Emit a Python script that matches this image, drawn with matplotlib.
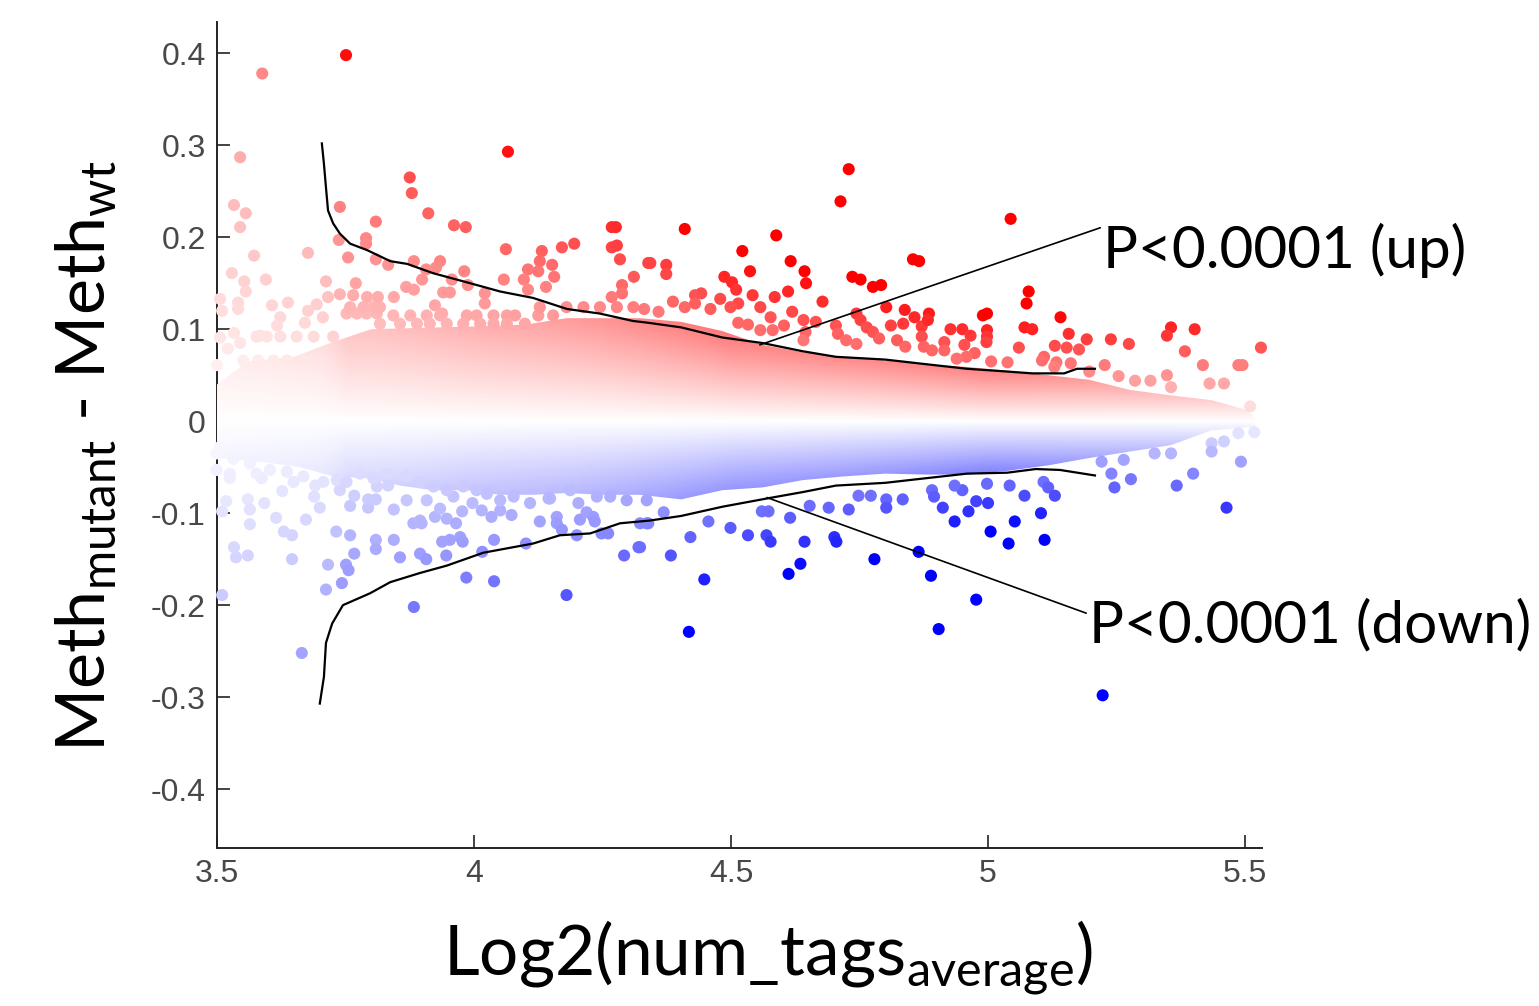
import numpy as np
import matplotlib
matplotlib.use('Agg')
import matplotlib.pyplot as plt
from matplotlib.patches import Polygon

plt.rcParams['mathtext.fontset'] = 'custom'
plt.rcParams['mathtext.rm'] = 'Lato'

# points above zero
up_x = [3.751,3.588,3.545,3.875,3.879,4.066,3.911,3.961,3.984,3.739,3.809,3.533,3.556,3.545,3.572,3.677,3.529,3.553,3.556,3.595,
        3.712,3.770,3.737,3.790,3.790,3.755,3.809,3.833,3.883,3.934,3.926,3.907,3.899,3.868,3.883,3.981,3.957,3.988,4.058,4.062,
        4.132,4.128,4.105,4.125,4.097,4.152,4.156,4.140,4.105,4.171,4.195,4.268,4.276,4.268,4.278,4.284,4.311,4.288,4.288,4.339,
        4.268,3.506,3.541,3.510,3.541,3.638,3.607,3.677,3.694,3.716,3.739,3.765,3.792,3.813,3.844,3.940,3.953,4.021,4.021,3.924,
        3.938,3.623,3.617,3.671,3.706,3.533,3.506,3.545,3.584,3.521,3.500,
        4.729,4.713,5.044,4.410,4.588,4.343,4.374,4.374,4.522,4.616,4.643,4.646,4.537,4.487,4.502,4.510,4.854,4.866,4.736,4.752,
        4.776,4.792,5.079,5.075,4.542,4.585,4.611,4.678,4.802,4.838,4.557,4.514,4.499,4.479,4.442,4.430,4.387,4.410,4.460,4.430,
        4.359,4.331,4.619,4.577,4.514,4.533,4.603,4.557,4.581,4.641,4.665,4.744,4.752,4.764,4.776,4.788,4.704,4.708,4.724,4.744,
        4.645,4.641,4.811,4.835,4.857,4.871,4.885,4.883,4.823,4.839,4.871,4.875,4.891,4.915,4.915,4.927,4.950,4.966,4.954,4.990,
        4.998,4.998,4.998,4.997,5.071,5.086,5.141,5.157,5.192,5.060,5.130,5.153,5.177,5.239,5.274,5.356,5.348,5.402,5.383,5.531,
        5.487,5.495,5.418,5.227,5.109,5.105,5.133,5.161,5.129,5.038,4.974,4.958,4.939,5.006,5.197,5.254,5.286,5.348,5.316,5.356,
        5.431,5.459,5.510,
        3.752,3.772,3.791,3.811,3.759,3.785,3.804,3.817,3.843,3.876,3.908,3.934,3.986,4.005,4.038,4.064,4.080,4.125,4.154,
        3.817,3.856,3.889,3.914,3.947,3.979,4.012,4.038,4.064,4.099,4.128,4.180,4.213,4.245,4.278,4.310,
        3.577,3.597,3.623,3.655,3.688,3.726,3.551,3.580,3.610,3.636,3.668,3.700]
up_y = [.398,.378,.287,.265,.248,.293,.226,.213,.211,.233,.217,.235,.226,.211,.180,.183,.161,.152,.141,.154,
        .152,.150,.197,.199,.193,.178,.176,.170,.174,.174,.167,.165,.154,.146,.143,.163,.154,.148,.154,.187,
        .185,.174,.165,.163,.154,.170,.157,.146,.143,.189,.193,.211,.211,.189,.191,.176,.157,.148,.139,.172,
        .135,.133,.129,.120,.122,.129,.126,.120,.127,.135,.138,.137,.135,.135,.135,.140,.140,.139,.128,.126,
        .117,.113,.104,.107,.113,.096,.091,.085,.093,.079,.061,
        .274,.239,.220,.209,.202,.172,.170,.160,.185,.174,.163,.150,.163,.157,.151,.143,.176,.174,.157,.154,
        .146,.148,.141,.128,.137,.135,.141,.130,.124,.121,.124,.128,.124,.133,.139,.137,.130,.124,.122,.128,
        .119,.122,.119,.113,.107,.105,.104,.099,.099,.110,.108,.117,.110,.102,.097,.090,.104,.095,.088,.084,
        .097,.088,.104,.106,.113,.103,.117,.110,.088,.081,.092,.081,.077,.086,.077,.100,.100,.093,.083,.115,
        .117,.099,.092,.086,.102,.100,.113,.095,.089,.080,.082,.080,.078,.089,.084,.102,.093,.100,.076,.080,
        .061,.061,.061,.061,.070,.066,.064,.063,.059,.064,.074,.070,.068,.065,.054,.049,.044,.050,.044,.037,
        .041,.041,.016,
        .117,.117,.117,.117,.124,.124,.124,.124,.115,.115,.115,.115,.115,.115,.115,.115,.115,.115,.115,
        .106,.106,.106,.106,.106,.106,.106,.106,.106,.106,.124,.124,.124,.124,.124,.124,
        .092,.092,.092,.092,.092,.092,.066,.066,.066,.066,.066,.066]

# points below zero
down_x = [4.180,3.883,3.665,3.985,4.039,4.292,4.320,3.510,3.712,3.743,3.716,3.751,3.756,3.646,3.537,3.560,3.533,3.646,3.630,3.732,
          3.759,3.767,3.809,3.809,3.844,3.856,3.895,3.907,3.946,3.938,3.953,3.973,3.978,4.016,4.039,4.101,4.200,4.248,4.261,4.323,
          4.336,4.128,4.161,4.161,4.171,4.206,4.219,4.232,4.235,3.564,3.615,3.673,3.510,3.518,3.560,3.564,3.592,3.700,3.689,3.627,
          3.759,3.767,3.794,3.794,3.809,3.844,3.882,3.895,3.898,3.924,3.947,3.965,3.934,3.977,3.997,4.015,3.525,3.525,4.034,4.073,
          4.109,4.203,4.145,4.239,3.587,3.649,3.691,3.739,3.811,3.833,3.869,3.908,3.960,4.051,
          4.418,4.904,4.977,5.223,5.464,4.448,4.612,4.635,4.779,4.865,4.889,4.383,4.421,4.499,4.533,4.569,4.577,4.643,4.701,4.705,
          4.615,4.690,4.729,4.560,4.573,4.653,4.748,4.772,4.802,4.802,4.834,4.912,4.935,4.962,4.977,5.000,5.005,5.052,5.040,5.103,
          5.110,5.071,5.108,5.117,5.130,5.246,5.278,5.367,5.399,5.492,5.240,4.891,4.895,4.950,4.935,4.998,5.042,4.456,4.369,4.339,
          4.323,5.221,5.264,5.324,5.356,5.435,5.435,5.459,5.518,5.487,
          3.577,3.603,3.636,3.668,3.707,3.733,3.752,3.778,3.804,3.830,3.869,3.895,3.921,3.947,3.979,4.005,4.025,4.051,4.077,4.148,
          4.187,4.265,4.297,4.336,3.506,3.532,3.564,3.499,3.499]
down_y = [-.189,-.202,-.252,-.170,-.174,-.146,-.137,-.189,-.183,-.176,-.156,-.156,-.162,-.150,-.148,-.146,-.137,-.124,-.120,-.120,
          -.124,-.144,-.129,-.139,-.129,-.148,-.144,-.150,-.146,-.131,-.129,-.126,-.131,-.142,-.129,-.133,-.124,-.122,-.122,-.111,
          -.111,-.109,-.104,-.111,-.118,-.107,-.099,-.104,-.109,-.112,-.105,-.107,-.098,-.087,-.085,-.096,-.089,-.094,-.082,-.076,
          -.092,-.081,-.094,-.085,-.085,-.096,-.111,-.108,-.111,-.104,-.106,-.111,-.095,-.098,-.089,-.097,-.057,-.062,-.104,-.102,
          -.089,-.089,-.084,-.082,-.062,-.066,-.070,-.075,-.071,-.070,-.086,-.086,-.082,-.097,
          -.229,-.226,-.194,-.298,-.094,-.172,-.166,-.155,-.150,-.142,-.168,-.146,-.126,-.116,-.124,-.124,-.131,-.131,-.126,-.131,
          -.105,-.094,-.096,-.098,-.098,-.092,-.081,-.081,-.085,-.094,-.085,-.094,-.109,-.098,-.087,-.089,-.120,-.109,-.133,-.100,
          -.129,-.081,-.066,-.072,-.081,-.072,-.063,-.070,-.057,-.044,-.057,-.075,-.082,-.075,-.070,-.068,-.070,-.109,-.099,-.111,
          -.137,-.044,-.042,-.035,-.035,-.024,-.033,-.022,-.012,-.013,
          -.057,-.053,-.055,-.060,-.066,-.064,-.066,-.057,-.062,-.057,-.060,-.066,-.071,-.075,-.071,-.075,-.079,-.086,-.082,-.084,
          -.075,-.082,-.086,-.086,-.028,-.041,-.046,-.035,-.053]

# edge of the solid cloud
cloud_top_x = [3.5,3.56,3.65,3.72,3.8,4.0,4.1,4.18,4.25,4.323,4.403,4.483,4.561,4.64,4.72,4.8,4.879,4.959,5.037,5.117,5.197,5.276,5.356,5.434,5.498,5.52]
cloud_top_y = [.04,.065,.07,.085,.10,.103,.105,.112,.112,.112,.108,.098,.083,.075,.07,.066,.062,.059,.055,.05,.045,.034,.028,.023,.013,.004]
cloud_bot_x = [3.5,3.597,3.661,3.726,3.792,3.856,3.92,3.986,4.05,4.115,4.181,4.245,4.323,4.403,4.483,4.561,4.64,4.72,4.8,4.879,4.959,5.037,5.117,5.197,5.276,5.356,5.434,5.52]
cloud_bot_y = [-.04,-.045,-.05,-.06,-.062,-.07,-.075,-.075,-.08,-.08,-.078,-.08,-.08,-.085,-.075,-.072,-.064,-.06,-.057,-.058,-.058,-.054,-.048,-.04,-.033,-.026,-.01,-.006]

# threshold curves
thr_up_x = [3.704,3.708,3.712,3.716,3.726,3.739,3.759,3.792,3.837,3.870,3.920,3.986,4.051,4.115,4.181,4.245,4.309,4.339,4.403,4.483,4.561,4.640,4.704,4.800,4.879,4.959,5.037,5.086,5.148,5.173,5.208]
thr_up_y = [.302,.280,.254,.229,.215,.204,.193,.186,.174,.171,.161,.151,.141,.134,.122,.117,.109,.107,.102,.091,.085,.076,.070,.067,.062,.057,.054,.052,.052,.057,.057]
thr_dn_x = [3.700,3.708,3.712,3.724,3.745,3.798,3.837,3.895,3.947,4.018,4.115,4.167,4.226,4.284,4.342,4.403,4.483,4.570,4.640,4.704,4.800,4.879,4.959,5.037,5.093,5.140,5.208]
thr_dn_y = [-.307,-.278,-.241,-.220,-.200,-.187,-.175,-.165,-.157,-.143,-.133,-.124,-.122,-.111,-.108,-.103,-.093,-.084,-.077,-.070,-.067,-.062,-.057,-.056,-.052,-.053,-.059]

# |difference| that shows as pure red/blue, by x
full_x = [3.5,3.6,3.7,3.75,3.8,4.0,4.2,4.5,5.0,5.5]
full_y = [.95,.80,.65,.42,.42,.33,.28,.18,.115,.12]


def strength(x, y):
    return np.clip(np.abs(y) / np.interp(x, full_x, full_y), 0, 1)


def colours(x, y):
    x = np.array(x)
    y = np.array(y)
    t = strength(x, y)
    rgb = np.ones((len(x), 3))
    rgb[:, 1] = 1 - t
    rgb[:, 0 if y.mean() < 0 else 2] = 1 - t
    return rgb


fig = plt.figure(figsize=(15.39, 10.06), dpi=100)
ax = fig.add_axes([217/1539, 1-848/1006, (1262-217)/1539, (848-22)/1006])

# solid cloud with its colour ramp
gx = np.linspace(3.5, 5.533, 300)
gy = np.linspace(-.12, .14, 300)
mx, my = np.meshgrid(gx, gy)
t = strength(mx, my)
img = np.ones(mx.shape + (3,))
img[..., 1] = 1 - t
img[..., 0] = np.where(my < 0, 1 - t, 1)
img[..., 2] = np.where(my > 0, 1 - t, 1)
mesh = ax.imshow(img, extent=[3.5, 5.533, -.12, .14], origin='lower', aspect='auto', zorder=3, interpolation='bilinear')
poly = Polygon(list(zip(cloud_top_x, cloud_top_y)) + list(zip(cloud_bot_x[::-1], cloud_bot_y[::-1])), closed=True, transform=ax.transData, fc='none', ec='none')
ax.add_patch(poly)
mesh.set_clip_path(poly)

ax.scatter(up_x, up_y, c=colours(up_x, up_y), s=76, linewidths=0, zorder=3, clip_on=False)
ax.scatter(down_x, down_y, c=colours(down_x, down_y), s=76, linewidths=0, zorder=3, clip_on=False)
ax.plot(thr_up_x, thr_up_y, color='k', lw=1.6, zorder=4)
ax.plot(thr_dn_x, thr_dn_y, color='k', lw=1.6, zorder=4)

ax.set_xlim(3.5, 5.533)
ax.set_ylim(-.464, .434)
ax.set_xticks([3.5, 4, 4.5, 5, 5.5])
ax.set_xticklabels(['3.5', '4', '4.5', '5', '5.5'])
ax.set_yticks([-.4, -.3, -.2, -.1, 0, .1, .2, .3, .4])
ax.set_yticklabels(['-0.4', '-0.3', '-0.2', '-0.1', '0', '0.1', '0.2', '0.3', '0.4'])
ax.spines['top'].set_visible(False)
ax.spines['right'].set_visible(False)
for s in ['left', 'bottom']:
    ax.spines[s].set_linewidth(1.4)
    ax.spines[s].set_color('#222222')
    ax.spines[s].set_zorder(1)
ax.tick_params(direction='in', length=9.5, width=1.2, color='#222222', labelsize=23, labelcolor='#484848', pad=8)
for lab in ax.get_xticklabels() + ax.get_yticklabels():
    lab.set_family('Liberation Sans')

ax.annotate('P<0.0001 (up)', xy=(4.556, .083), xytext=(1103/1539, 1-250/1006), textcoords='figure fraction',
            fontsize=42, family='Lato', va='center', ha='left', zorder=5,
            arrowprops=dict(arrowstyle='-', color='k', lw=1.2, shrinkA=0, shrinkB=0, relpos=(0, .92)))
ax.annotate('P<0.0001 (down)', xy=(4.57, -.083), xytext=(1089/1539, 1-626/1006), textcoords='figure fraction',
            fontsize=42, family='Lato', va='center', ha='left', zorder=5,
            arrowprops=dict(arrowstyle='-', color='k', lw=1.2, shrinkA=0, shrinkB=0, relpos=(0, .72)))

fig.text(86/1539, 1-456/1006, r'$\mathrm{Meth}_{\mathrm{mutant}}$ - $\mathrm{Meth}_{\mathrm{wt}}$', rotation=90,
         fontsize=49, family='Lato', ha='center', va='center')
fig.text(768/1539, 1-958/1006, r'$\mathrm{Log2(num\_tags}_{\mathrm{average}}\mathrm{)}$',
         fontsize=50, ha='center', va='center')

fig.savefig('out.png', dpi=100)
